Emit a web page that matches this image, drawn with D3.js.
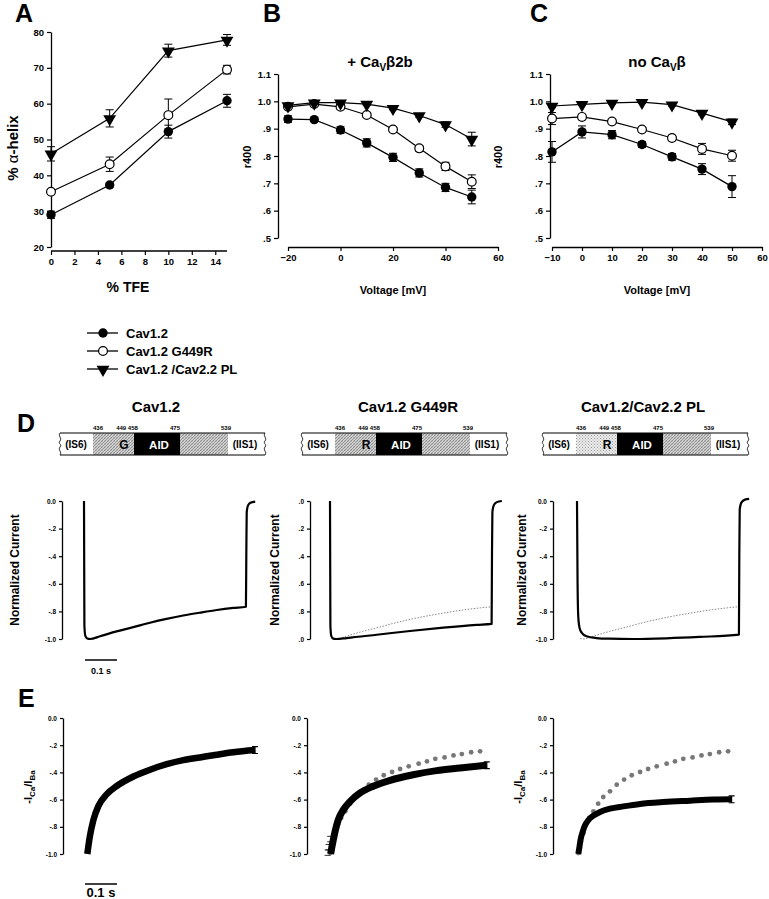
<!DOCTYPE html>
<html><head><meta charset="utf-8">
<script src="https://cdn.jsdelivr.net/npm/d3@7"></script>
<style>
body{margin:0;background:#fff}
svg{display:block}
text{font-family:"Liberation Sans",Arial,Helvetica,sans-serif;font-weight:bold;fill:#000}
</style>
</head><body>
<script>
// ---------------- DATA ----------------
const seriesNames = ["Cav1.2", "Cav1.2 G449R", "Cav1.2 /Cav2.2 PL"];
// Panel A: % alpha-helix vs % TFE
const tfe = [0, 5, 10, 15];
const helixCav12 = [29.0, 37.3, 52.2, 60.8];
const helixCav12Err = [1.0, 0.6, 1.8, 1.8];
const helixG449R = [35.4, 43.1, 56.8, 69.5];
const helixG449RErr = [0.6, 2.0, 4.5, 1.2];
const helixPL = [46.0, 55.9, 74.8, 77.8];
const helixPLErr = [2.0, 2.4, 1.8, 1.5];
const tfeTicks = [0, 2, 4, 6, 8, 10, 12, 14];
const helixTicks = [20, 30, 40, 50, 60, 70, 80];

// Panel B: r400 vs voltage (+ CaVb2b)
const voltB = [-20, -10, 0, 10, 20, 30, 40, 50];
const r400BCav12 = [0.935, 0.933, 0.895, 0.848, 0.795, 0.738, 0.685, 0.650];
const r400BCav12Err = [0.012, 0.006, 0.012, 0.015, 0.015, 0.015, 0.015, 0.025];
const r400BG449R = [0.980, 0.990, 0.980, 0.950, 0.897, 0.828, 0.762, 0.706];
const r400BG449RErr = [0.010, 0.006, 0.008, 0.008, 0.008, 0.010, 0.015, 0.025];
const r400BPL = [0.985, 0.995, 0.995, 0.990, 0.975, 0.948, 0.915, 0.862];
const r400BPLErr = [0.005, 0.005, 0.005, 0.005, 0.006, 0.006, 0.010, 0.025];
const voltBTicks = [-20, 0, 20, 40, 60];

// Panel C: r400 vs voltage (no CaVb)
const voltC = [-10, 0, 10, 20, 30, 40, 50];
const r400CCav12 = [0.815, 0.888, 0.878, 0.842, 0.797, 0.752, 0.688];
const r400CCav12Err = [0.038, 0.022, 0.015, 0.010, 0.012, 0.020, 0.040];
const r400CG449R = [0.937, 0.943, 0.926, 0.897, 0.866, 0.826, 0.801];
const r400CG449RErr = [0.022, 0.010, 0.006, 0.006, 0.010, 0.020, 0.020];
const r400CPL = [0.983, 0.989, 0.994, 0.997, 0.988, 0.957, 0.925];
const r400CPLErr = [0.006, 0.004, 0.004, 0.004, 0.005, 0.006, 0.010];
const voltCTicks = [-10, 0, 10, 20, 30, 40, 50, 60];
const r400Ticks = [0.5, 0.6, 0.7, 0.8, 0.9, 1.0, 1.1];

// Panel D: construct schematics
const constructTitles = ["Cav1.2", "Cav1.2 G449R", "Cav1.2/Cav2.2 PL"];
const constructResidue = ["G", "R", "R"];
const residueNumbers = ["436", "449 458", "475", "539"];

// Panel D: normalized current traces [time (s), current]
const traceCav12 = [[0,0],[0.0012,-0.9],[0.004,-0.975],[0.010,-0.996],[0.019,-1.0],[0.05,-0.98],[0.102,-0.945],[0.154,-0.914],[0.206,-0.882],[0.258,-0.854],[0.31,-0.83],[0.363,-0.809],[0.415,-0.79],[0.467,-0.775],[0.506,-0.766],[0.5072,-0.4],[0.5085,-0.08],[0.513,-0.03],[0.52,-0.012],[0.535,-0.004]];
const traceG449R = [[0,0],[0.0012,-0.9],[0.004,-0.978],[0.010,-0.997],[0.02,-1.0],[0.052,-0.993],[0.146,-0.969],[0.25,-0.942],[0.354,-0.918],[0.458,-0.898],[0.505,-0.891],[0.5062,-0.4],[0.5075,-0.08],[0.512,-0.03],[0.52,-0.01],[0.537,0.0]];
const tracePL = [[0,0],[0.0018,-0.6],[0.004,-0.84],[0.008,-0.92],[0.015,-0.955],[0.03,-0.98],[0.06,-0.993],[0.1,-0.998],[0.175,-1.0],[0.279,-0.995],[0.383,-0.985],[0.506,-0.968],[0.5072,-0.4],[0.5085,-0.06],[0.514,-0.01],[0.525,0.01],[0.538,0.015]];
const currentTicks = [0, -0.2, -0.4, -0.6, -0.8, -1.0];
const currentTickLabels = ["0.0", "-.2", "-.4", "-.6", "-.8", "-1.0"];
const currentTickLabelsG449R = [".0", ".2", ".4", ".6", ".8", ".0"];

// Panel E: -ICa/IBa ratio [time (s), ratio]
const ratioCav12 = [[0.001,-1.0],[0.009,-0.87],[0.02,-0.75],[0.035,-0.65],[0.062,-0.56],[0.093,-0.50],[0.145,-0.43],[0.197,-0.38],[0.249,-0.34],[0.301,-0.31],[0.353,-0.29],[0.405,-0.27],[0.457,-0.252],[0.525,-0.236]];
const ratioCav12Dots = [[0.001,-0.993],[0.004,-0.956],[0.009,-0.907],[0.017,-0.846],[0.025,-0.784],[0.035,-0.735],[0.048,-0.686],[0.063,-0.630],[0.079,-0.581],[0.1,-0.539],[0.121,-0.49],[0.144,-0.453],[0.168,-0.421],[0.194,-0.397],[0.219,-0.375],[0.246,-0.355],[0.277,-0.336],[0.303,-0.319],[0.329,-0.30],[0.358,-0.29],[0.386,-0.275],[0.412,-0.265],[0.441,-0.252],[0.469,-0.245]];
const ratioG449R = [[0.002,-1.0],[0.005,-0.96],[0.010,-0.9],[0.016,-0.833],[0.026,-0.748],[0.042,-0.674],[0.063,-0.613],[0.094,-0.551],[0.135,-0.502],[0.188,-0.458],[0.260,-0.417],[0.333,-0.387],[0.406,-0.368],[0.49,-0.347]];
const ratioPL = [[0.001,-1.0],[0.004,-0.956],[0.008,-0.895],[0.015,-0.833],[0.022,-0.789],[0.032,-0.752],[0.048,-0.718],[0.069,-0.691],[0.1,-0.667],[0.142,-0.65],[0.194,-0.632],[0.267,-0.618],[0.35,-0.608],[0.423,-0.600],[0.48,-0.598]];
const ratioTicks = [0, -0.2, -0.4, -0.6, -0.8, -1.0];
const ratioTickLabels = ["0.0", "-.2", "-.4", "-.6", "-.8", "-1.0"];

// ---------------- DRAWING ----------------
const FONT = '"Liberation Sans", Arial, Helvetica, sans-serif';
const svg = d3.select("body").append("svg").attr("width", 769).attr("height", 899);
const defs = svg.append("defs");
const pHatch = defs.append("pattern").attr("id", "hatch").attr("width", 3).attr("height", 3).attr("patternUnits", "userSpaceOnUse");
pHatch.append("rect").attr("width", 3).attr("height", 3).attr("fill", "#d2d2d2");
pHatch.append("path").attr("d", "M0,3L3,0M-1,1L1,-1M2,4L4,2").attr("stroke", "#666").attr("stroke-width", 0.6);
pHatch.append("path").attr("d", "M0,0L3,3").attr("stroke", "#999").attr("stroke-width", 0.4);
const pLight = defs.append("pattern").attr("id", "light").attr("width", 3).attr("height", 3).attr("patternUnits", "userSpaceOnUse");
pLight.append("rect").attr("width", 3).attr("height", 3).attr("fill", "#ececec");
pLight.append("rect").attr("x", 0).attr("y", 0).attr("width", 1).attr("height", 1).attr("fill", "#999");
pLight.append("rect").attr("x", 1.5).attr("y", 1.5).attr("width", 1).attr("height", 1).attr("fill", "#aaa");

function styleAxis(g, fs) {
  g.attr("font-family", FONT).attr("font-size", fs).attr("font-weight", "bold");
  g.select(".domain").attr("stroke", "#000").attr("stroke-width", 1.3);
  g.selectAll(".tick line").attr("stroke", "#000").attr("stroke-width", 1.2);
  g.selectAll(".tick text").attr("fill", "#000");
}

function text(x, y, str, fs, anchor) {
  return svg.append("text").attr("x", x).attr("y", y).attr("font-size", fs)
    .attr("text-anchor", anchor || "start").text(str);
}
function rotText(cx, cy, str, fs) {
  return svg.append("text").attr("transform", `translate(${cx},${cy}) rotate(-90)`)
    .attr("text-anchor", "middle").attr("dy", "0.35em").attr("font-size", fs).text(str);
}

const triPath = d3.symbol().type(d3.symbolTriangle).size(72)();
function marker(g, kind, x, y) {
  if (kind === 0) g.append("circle").attr("cx", x).attr("cy", y).attr("r", 4.7).attr("fill", "#000");
  else if (kind === 1) g.append("circle").attr("cx", x).attr("cy", y).attr("r", 4.4).attr("fill", "#fff").attr("stroke", "#000").attr("stroke-width", 1.2);
  else g.append("path").attr("d", triPath).attr("transform", `translate(${x},${y + 0.5}) rotate(180)`).attr("fill", "#000");
}

function drawSeries(g, xs, ys, errs, xs_, ys_, kind) {
  const pts = xs.map((x, i) => [xs_(x), ys_(ys[i])]);
  g.append("path").attr("d", d3.line()(pts)).attr("fill", "none").attr("stroke", "#000").attr("stroke-width", 1.2);
  xs.forEach((x, i) => {
    const px = xs_(x), y1 = ys_(ys[i] - errs[i]), y2 = ys_(ys[i] + errs[i]);
    g.append("path").attr("d", `M${px},${y1}V${y2}M${px - 4},${y1}H${px + 4}M${px - 4},${y2}H${px + 4}`)
      .attr("stroke", "#000").attr("stroke-width", 1).attr("fill", "none");
  });
  pts.forEach(p => marker(g, kind, p[0], p[1]));
}

// Panel letters
text(15, 22, "A", 25); text(263, 22, "B", 25); text(530, 22, "C", 25);
text(17, 432, "D", 25); text(18, 707, "E", 25);

// ---- Panel A ----
{
  const x = d3.scaleLinear().domain([0, 15]).range([51, 227]);
  const y = d3.scaleLinear().domain([20, 80]).range([247, 32]);
  const gy = svg.append("g").attr("transform", "translate(51,0)")
    .call(d3.axisLeft(y).tickValues(helixTicks).tickSize(4).tickSizeOuter(0));
  styleAxis(gy, 9.5);
  const gx = svg.append("g").attr("transform", "translate(0,251)")
    .call(d3.axisBottom(x).tickValues(tfeTicks).tickSize(4).tickSizeOuter(0));
  styleAxis(gx, 9.5);
  gx.select(".domain").remove();
  gx.append("path").attr("d", `M${x(0)},0H${x(15)}`).attr("stroke", "#000").attr("stroke-width", 1.3);
  const g = svg.append("g");
  drawSeries(g, tfe, helixCav12, helixCav12Err, x, y, 0);
  drawSeries(g, tfe, helixG449R, helixG449RErr, x, y, 1);
  drawSeries(g, tfe, helixPL, helixPLErr, x, y, 2);
  const yl = svg.append("text").attr("transform", "translate(13,148) rotate(-90)").attr("text-anchor", "middle")
    .attr("dy", "0.35em").attr("font-size", 15);
  yl.append("tspan").text("% ");
  yl.append("tspan").attr("font-weight", "normal").text("α");
  yl.append("tspan").text("-helix");
  text(128, 292, "% TFE", 14, "middle");
}

function r400Fmt(v) { return v >= 1 ? v.toFixed(1) : "." + Math.round(v * 10); }

function titleCa(cx, y, tail) {
  const t = svg.append("text").attr("x", cx).attr("y", y).attr("text-anchor", "middle").attr("font-size", 15);
  t.append("tspan").text(tail[0]);
  t.append("tspan").attr("font-size", 10).attr("dy", 4).text("V");
  t.append("tspan").attr("dy", -4).text(tail[1]);
}

// ---- Panel B ----
{
  const x = d3.scaleLinear().domain([-20, 60]).range([288, 498]);
  const y = d3.scaleLinear().domain([0.5, 1.1]).range([238, 74]);
  const gy = svg.append("g").attr("transform", "translate(278,0)")
    .call(d3.axisLeft(y).tickValues(r400Ticks).tickFormat(r400Fmt).tickSize(4).tickSizeOuter(0));
  styleAxis(gy, 9.5);
  const gx = svg.append("g").attr("transform", "translate(0,247)")
    .call(d3.axisBottom(x).tickValues(voltBTicks).tickSize(4).tickSizeOuter(0));
  styleAxis(gx, 9.5);
  const g = svg.append("g");
  drawSeries(g, voltB, r400BCav12, r400BCav12Err, x, y, 0);
  drawSeries(g, voltB, r400BG449R, r400BG449RErr, x, y, 1);
  drawSeries(g, voltB, r400BPL, r400BPLErr, x, y, 2);
  titleCa(380, 67, ["+ Ca", "β2b"]);
  rotText(247, 157, "r400", 11);
  text(393, 294, "Voltage [mV]", 11, "middle");
}

// ---- Panel C ----
{
  const x = d3.scaleLinear().domain([-10, 60]).range([552, 762]);
  const y = d3.scaleLinear().domain([0.5, 1.1]).range([238, 74]);
  const gy = svg.append("g").attr("transform", "translate(550,0)")
    .call(d3.axisLeft(y).tickValues(r400Ticks).tickFormat(r400Fmt).tickSize(4).tickSizeOuter(0));
  styleAxis(gy, 9.5);
  const gx = svg.append("g").attr("transform", "translate(0,247)")
    .call(d3.axisBottom(x).tickValues(voltCTicks).tickSize(4).tickSizeOuter(0));
  styleAxis(gx, 9.5);
  const g = svg.append("g");
  drawSeries(g, voltC, r400CCav12, r400CCav12Err, x, y, 0);
  drawSeries(g, voltC, r400CG449R, r400CG449RErr, x, y, 1);
  drawSeries(g, voltC, r400CPL, r400CPLErr, x, y, 2);
  titleCa(657, 67, ["no Ca", "β"]);
  rotText(498, 157, "r400", 11);
  text(657, 294, "Voltage [mV]", 11, "middle");
}

// ---- Legend ----
{
  const g = svg.append("g");
  seriesNames.forEach((name, i) => {
    const yy = 333 + i * 18;
    g.append("path").attr("d", `M87,${yy}H118`).attr("stroke", "#000").attr("stroke-width", 1.3);
    marker(g, i, 103, yy);
    g.append("text").attr("x", 126).attr("y", yy + 4.5).attr("font-size", 13).text(name);
  });
}

// ---- Panel D schematics ----
const boxLefts = [60, 302, 543];
const boxTitleX = [156, 408, 643];
const segEdges = [0, 33, 74, 120, 168, 205];
const numOffsets = [38, 67, 115, 166];
boxLefts.forEach((L, k) => {
  text(boxTitleX[k], 412, constructTitles[k], 15, "middle");
  const top = 433, h = 22;
  const fills = ["#fff", k === 2 ? "url(#light)" : "url(#hatch)", "#000", "url(#hatch)", "#fff"];
  for (let s = 0; s < 5; s++) {
    svg.append("rect").attr("x", L + segEdges[s]).attr("y", top).attr("width", segEdges[s + 1] - segEdges[s]).attr("height", h)
      .attr("fill", fills[s]);
  }
  svg.append("path").attr("d", `M${L},${top}H${L + 205}M${L},${top + h}H${L + 205}`).attr("stroke", "#000").attr("stroke-width", 1);
  [L, L + 205].forEach(ex => {
    svg.append("path").attr("d", `M${ex},${top}c-2.5,3 2.5,5 0,8c-2.5,3 2.5,3 0,6c-2.5,3 2.5,5 0,8`)
      .attr("stroke", "#000").attr("stroke-width", 0.8).attr("fill", "none");
  });
  residueNumbers.forEach((n, i) => text(L + numOffsets[i], 430, n, 6, "middle"));
  text(L + 16, 448, "(IS6)", 10, "middle");
  text(L + 64, 449, constructResidue[k], 12, "middle");
  text(L + 99, 449, "AID", 11.5, "middle").style("fill", "#fff");
  text(L + 185, 448, "(IIS1)", 10, "middle");
});

// ---- Panel D traces ----
const dAxisX = [62, 310, 553];
const dStartX = [84, 330, 577];
const dLabelX = [15, 275, 522];
const dTraces = [traceCav12, traceG449R, tracePL];
const yD = d3.scaleLinear().domain([-1, 0]).range([639, 501]);
dAxisX.forEach((ax, k) => {
  const labels = k === 1 ? currentTickLabelsG449R : currentTickLabels;
  const gy = svg.append("g").attr("transform", `translate(${ax},0)`)
    .call(d3.axisLeft(yD).tickValues(currentTicks).tickFormat((d, i) => labels[i]).tickSize(3).tickSizeOuter(0).tickPadding(3));
  styleAxis(gy, 6.5);
  const x = d3.scaleLinear().domain([0, 0.5]).range([dStartX[k], dStartX[k] + 160]);
  const line = d3.line().x(d => x(d[0])).y(d => yD(d[1])).curve(d3.curveMonotoneX);
  if (k > 0) {
    const ref = traceCav12.filter(d => d[0] >= 0.01 && d[0] <= 0.506);
    svg.append("path").attr("d", line(ref)).attr("fill", "none").attr("stroke", "#888")
      .attr("stroke-width", 1).attr("stroke-dasharray", "1.5,1.5");
  }
  svg.append("path").attr("d", line(dTraces[k])).attr("fill", "none").attr("stroke", "#000")
    .attr("stroke-width", 2.2).attr("stroke-linejoin", "round");
  rotText(dLabelX[k], 570, "Normalized Current", 12);
});
// scale bar D
svg.append("path").attr("d", "M85,660H117").attr("stroke", "#000").attr("stroke-width", 1.5);
text(101, 674, "0.1 s", 9, "middle");

// ---- Panel E ----
const eAxisX = [63, 307, 553];
const eStartX = [87, 330, 578];
const eBands = [ratioCav12, ratioG449R, ratioPL];
const eWidths = [6.5, 7, 6];
const yE = d3.scaleLinear().domain([-1, 0]).range([854, 718]);
eAxisX.forEach((ax, k) => {
  const gy = svg.append("g").attr("transform", `translate(${ax},0)`)
    .call(d3.axisLeft(yE).tickValues(ratioTicks).tickFormat((d, i) => ratioTickLabels[i]).tickSize(3).tickSizeOuter(0).tickPadding(3));
  styleAxis(gy, 6.5);
  const x = d3.scaleLinear().domain([0, 0.5]).range([eStartX[k], eStartX[k] + 160]);
  const line = d3.line().x(d => x(d[0])).y(d => yE(d[1])).curve(d3.curveMonotoneX);
  if (k > 0) {
    svg.append("g").selectAll("circle").data(ratioCav12Dots).join("circle")
      .attr("cx", d => x(d[0])).attr("cy", d => yE(d[1])).attr("r", 2.4).attr("fill", "#777");
  }
  const band = eBands[k];
  svg.append("path").attr("d", line(band)).attr("fill", "none").attr("stroke", "#000")
    .attr("stroke-width", eWidths[k]).attr("stroke-linecap", "butt");
  // error whisker at last point
  const last = band[band.length - 1];
  const lx = x(last[0]), e = 0.025;
  svg.append("path").attr("d", `M${lx},${yE(last[1] - e)}V${yE(last[1] + e)}M${lx - 3},${yE(last[1] - e)}H${lx + 3}M${lx - 3},${yE(last[1] + e)}H${lx + 3}`)
    .attr("stroke", "#000").attr("stroke-width", 1.2).attr("fill", "none");
  if (k === 1) {
    band.slice(0, 3).forEach(d => {
      const px = x(d[0]);
      svg.append("path").attr("d", `M${px - 6},${yE(d[1] + 0.03)}H${px}M${px - 6},${yE(d[1] - 0.01)}H${px}`)
        .attr("stroke", "#000").attr("stroke-width", 0.8);
    });
  }
});
function ratioLabel(cx, cy) {
  const t = svg.append("text").attr("transform", `translate(${cx},${cy}) rotate(-90)`)
    .attr("text-anchor", "middle").attr("dy", "0.35em").attr("font-size", 11);
  t.append("tspan").text("-I");
  t.append("tspan").attr("font-size", 8).attr("dy", 3).text("Ca");
  t.append("tspan").attr("dy", -3).text("/I");
  t.append("tspan").attr("font-size", 8).attr("dy", 3).text("Ba");
}
ratioLabel(28, 787);
ratioLabel(518, 787);
// scale bar E
svg.append("path").attr("d", "M85,884H117").attr("stroke", "#000").attr("stroke-width", 1.5);
text(101, 897, "0.1 s", 13, "middle");
</script>
</body></html>
